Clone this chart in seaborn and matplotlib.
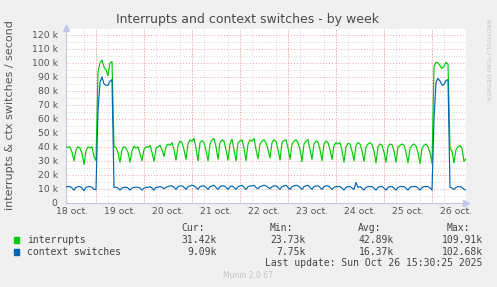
import matplotlib
matplotlib.use("Agg")
import matplotlib.pyplot as plt
from matplotlib.patches import Rectangle
from matplotlib.ticker import MultipleLocator, FixedLocator
import seaborn as sns
import pandas as pd

# ---------------- data (values in thousands per second) ----------------
# hours counted from 18 Oct 00:00, one sample per hour
hours = list(range(9, 210))

interrupts = [
    40, 39.5, 40, 36, 30, 38, 40, 39, 35, 27.5,
    37, 40, 39, 40, 33, 30, 93.7, 100, 102, 97,
    95, 91, 100, 101, 40, 39.5, 36, 29, 38, 40,
    39, 36, 29, 37, 40.5, 39, 40, 35, 30, 38,
    40, 39.5, 41, 36, 29.5, 39, 40, 41, 38, 33,
    40, 42, 41, 43, 38, 30.5, 41, 44, 43, 38,
    31, 42, 45, 44, 46, 39, 30, 43, 44.5, 43,
    37, 30, 42, 45, 46, 40, 31, 43, 45, 44,
    38, 30.5, 42, 45.5, 38, 30, 43, 44, 45, 39,
    30, 42, 45, 44, 46, 38, 31.5, 42, 44, 45,
    43, 38, 32, 43, 45, 44, 38, 30.5, 43, 44.5,
    45, 39, 31, 42, 44, 45, 43, 38, 29.5, 42,
    44, 45, 38, 31, 42, 44, 43.5, 38, 30, 42,
    44, 43, 38, 31, 41, 43, 42, 43, 37, 29,
    40, 42.5, 42, 37, 30, 41, 43, 42, 37, 29.5,
    40, 42, 43, 41.5, 37, 28.5, 40, 42, 41, 36,
    29, 40, 42, 41.5, 37, 29, 40, 41, 42, 41,
    36, 28.5, 39, 41, 42, 40.5, 36, 28, 39, 41,
    42, 40, 36, 28, 97, 100.5, 100, 98, 96, 97.5,
    100.5, 99, 39, 37, 28.5, 38, 40, 41, 39, 29.5,
    31.4,
]

context_switches = [
    11.5, 11.5, 11.5, 10.5, 9, 11, 11.5, 11.5, 10.5, 8.5,
    11, 11.5, 11.5, 11, 9.5, 9.5, 66, 86, 90, 85,
    84, 84, 87, 88, 11, 11, 10.5, 9, 10.5, 11,
    11, 10.5, 9, 10.5, 11, 11, 11, 10.5, 9, 10.5,
    11, 11, 11.5, 10.5, 9, 11, 11, 11.5, 11, 10,
    11, 11.5, 12, 12, 11, 9.5, 11.5, 12, 12, 11,
    9.5, 11.5, 12, 12.5, 12, 11, 9.5, 11.5, 12, 12,
    11, 9.5, 11.5, 12, 12.5, 11, 9.5, 11.5, 12, 12,
    11, 9.5, 11.5, 12, 11, 9.5, 11.5, 12, 12.5, 11,
    9.5, 11.5, 12, 12, 12.5, 11, 10, 11.5, 12, 12.5,
    12, 11, 10, 11.5, 12, 12, 11, 9.5, 11.5, 12,
    12.5, 11, 9.5, 11.5, 12, 12.5, 12, 11, 9.5, 11.5,
    12, 12.5, 11, 9.5, 11.5, 12, 12, 11, 9.5, 11.5,
    12, 12, 11, 9.5, 11, 11.5, 11.5, 11.5, 10.5, 9,
    11, 11.5, 11.5, 10.5, 9.5, 14.5, 11, 11.5, 10.5, 9,
    11, 11.5, 11.5, 11.5, 10.5, 9, 11, 11.5, 11.5, 10.5,
    9, 11, 11.5, 11.5, 10.5, 9, 11, 11.5, 11.5, 11.5,
    10.5, 9, 11, 11.5, 11.5, 11.5, 10.5, 9, 11, 11.5,
    11.5, 11.5, 10.5, 9, 60, 86, 89, 87, 84, 84.5,
    87.5, 88, 11, 10.5, 9.5, 11, 11.5, 11.5, 11, 9.5,
    9.1,
]

day_labels = ["18 oct.", "19 oct.", "20 oct.", "21 oct.", "22 oct.",
              "23 oct.", "24 oct.", "25 oct.", "26 oct."]
y_ticks = [0, 10, 20, 30, 40, 50, 60, 70, 80, 90, 100, 110, 120]
y_tick_labels = ["0"] + [f"{v} k" for v in y_ticks[1:]]

series_names = ["interrupts", "context switches"]
series_colors = ["#00CC00", "#0066B3"]
stat_cur = ["31.42k", "9.09k"]
stat_min = ["23.73k", "7.75k"]
stat_avg = ["42.89k", "16.37k"]
stat_max = ["109.91k", "102.68k"]

# ---------------- figure ----------------
W, H = 497, 287
sns.set_style("white")
plt.rcParams["font.family"] = ["DejaVu Sans"]

fig = plt.figure(figsize=(W / 100, H / 100), dpi=100, facecolor="#F0F0F0")
ax = fig.add_axes([66 / W, 1 - 202.7 / H, 400 / W, 175 / H])
ax.set_facecolor("white")

n = len(hours)
df = pd.DataFrame({
    "hour": hours * 2,
    "value": interrupts + context_switches,
    "series": [series_names[0]] * n + [series_names[1]] * n,
})
sns.lineplot(data=df, x="hour", y="value", hue="series",
             hue_order=series_names,
             palette=dict(zip(series_names, series_colors)),
             estimator=None, linewidth=0.85, legend=False, ax=ax, zorder=3)
ax.set_xlabel("")
ax.set_ylabel("")

ax.set_xlim(hours[0], hours[-1])
ax.set_ylim(0, 125.2)

# y grid
ax.yaxis.set_major_locator(FixedLocator(y_ticks))
ax.set_yticklabels(y_tick_labels)
ax.yaxis.set_minor_locator(MultipleLocator(5))
ax.grid(which="major", axis="y", color="#EBA4A4", linestyle=(0, (1, 2)), linewidth=0.7)
ax.grid(which="minor", axis="y", color="#CFCFCF", linestyle=(0, (1, 2)), linewidth=0.6)

# x: day labels at noon, gray grid every 6h, red at midnight
noons = [12 + 24 * i for i in range(len(day_labels))]
ax.xaxis.set_major_locator(FixedLocator(noons))
ax.set_xticklabels(day_labels)
ax.xaxis.set_minor_locator(MultipleLocator(6))
ax.grid(which="minor", axis="x", color="#CFCFCF", linestyle=(0, (1, 2)), linewidth=0.6)
midnights = [24 * (i + 1) for i in range(len(day_labels) - 1)]
ax.vlines(midnights, 0, 1, transform=ax.get_xaxis_transform(),
          colors="#EBA4A4", linestyles=(0, (1, 2)), linewidth=0.7, zorder=1)

ax.tick_params(axis="both", which="both", length=0, labelsize=6.7, colors="#555555")
ax.tick_params(axis="y", pad=6)
ax.tick_params(axis="x", pad=3)

for s in ["top", "right"]:
    ax.spines[s].set_visible(False)
for s in ["left", "bottom"]:
    ax.spines[s].set_color("#C4C4EC")
    ax.spines[s].set_linewidth(0.8)
ax.plot([1.0], [0], marker=">", markersize=4, color="#C4C4EC",
        transform=ax.transAxes, clip_on=False)
ax.plot([0], [1.0], marker="^", markersize=4, color="#C4C4EC",
        transform=ax.transAxes, clip_on=False)

# texts
fig.text(248 / W, 1 - 20 / H, "Interrupts and context switches - by week",
         ha="center", va="center", fontsize=9, color="#4a4a4a")
fig.text(10 / W, 1 - 115 / H, "interrupts & ctx switches / second",
         rotation=90, ha="center", va="center", fontsize=8, color="#555555")
fig.text(488 / W, 1 - 60 / H, "RRDTOOL / TOBI OETIKER", rotation=270,
         ha="center", va="center", fontsize=4.6, color="#C4C4C4")

mono = dict(family="DejaVu Sans Mono", fontsize=7, color="#444444", va="center")
hdr_left = [181.7, 270, 357.7, 446.7]
col_right = [216.7, 306, 394, 482.7]
for x, t in zip(hdr_left, ["Cur:", "Min:", "Avg:", "Max:"]):
    fig.text(x / W, 1 - 227.7 / H, t, ha="left", **mono)

row_y = [240, 252]
for i, name in enumerate(series_names):
    y = row_y[i]
    fig.patches.append(Rectangle(((14) / W, 1 - (y + 2.7) / H), 5.4 / W, 5.4 / H,
                                 transform=fig.transFigure, color=series_colors[i]))
    fig.text(26.7 / W, 1 - y / H, name, ha="left", **mono)
    for x, v in zip(col_right, [stat_cur[i], stat_min[i], stat_avg[i], stat_max[i]]):
        fig.text(x / W, 1 - y / H, v, ha="right", **mono)

fig.text(482.7 / W, 1 - 263.5 / H, "Last update: Sun Oct 26 15:30:25 2025",
         ha="right", **mono)
fig.text(248 / W, 1 - 276 / H, "Munin 2.0.67", ha="center", va="center",
         fontsize=5.5, color="#C4C4C4")

fig.savefig("out.png", dpi=100, facecolor=fig.get_facecolor())
